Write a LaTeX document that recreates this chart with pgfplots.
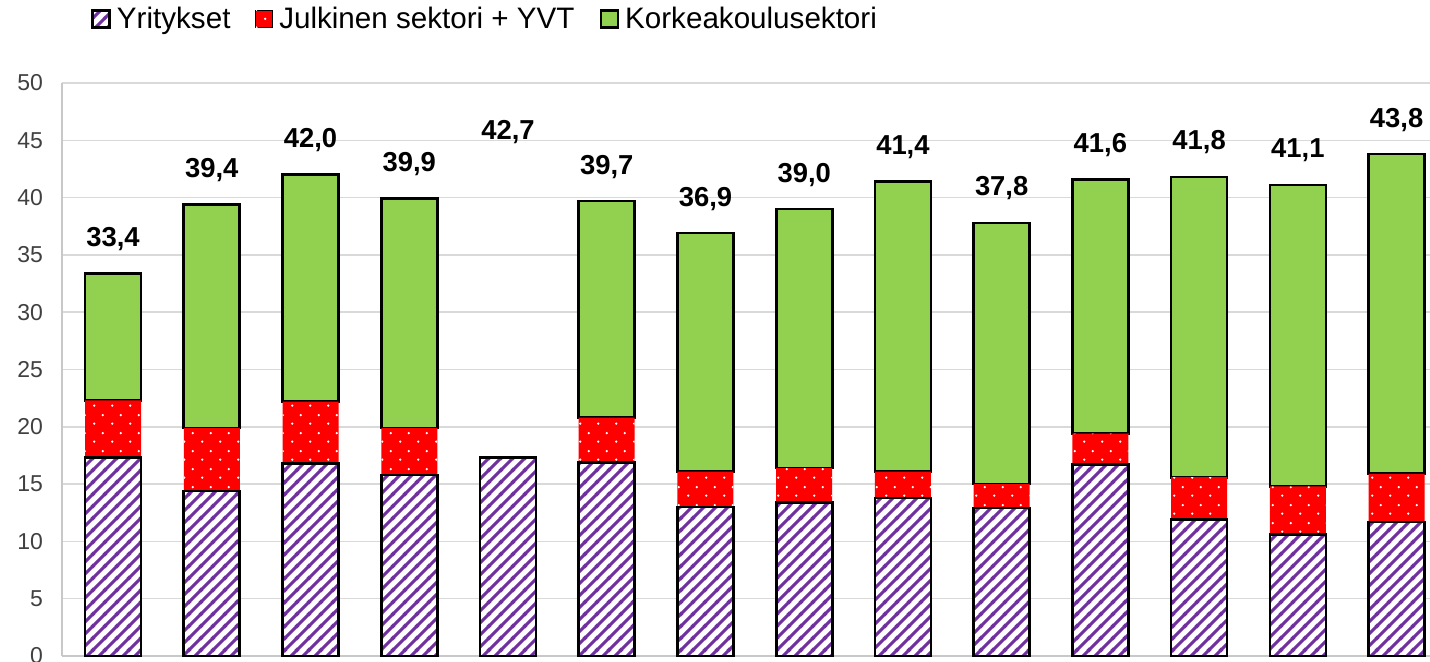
\documentclass[border=0pt]{standalone}
\usepackage{fontspec}
\setmainfont{Liberation Sans}
\usepackage{pgfplots}
\usepackage{pgfplotstable}
\pgfplotsset{compat=1.18}
\usetikzlibrary{patterns}
\definecolor{kkgreen}{HTML}{92D050}
\definecolor{yrpurple}{HTML}{7030A0}
\definecolor{gridgray}{HTML}{D9D9D9}
\definecolor{axisgray}{HTML}{C8C8C8}
\definecolor{tickgray}{HTML}{404040}

\pgfdeclarepatternformonly{thicklines}{\pgfqpoint{0pt}{0pt}}{\pgfqpoint{5.85pt}{5.85pt}}{\pgfqpoint{5.85pt}{5.85pt}}{%
  \pgfsetlinewidth{1.5pt}%
  \pgfpathmoveto{\pgfqpoint{-1pt}{-1pt}}\pgfpathlineto{\pgfqpoint{6.85pt}{6.85pt}}%
  \pgfpathmoveto{\pgfqpoint{-6.85pt}{-1pt}}\pgfpathlineto{\pgfqpoint{1pt}{6.85pt}}%
  \pgfpathmoveto{\pgfqpoint{4.85pt}{-1pt}}\pgfpathlineto{\pgfqpoint{12.7pt}{6.85pt}}%
  \pgfusepath{stroke}%
}
\pgfdeclarepatternformonly{whitedots}{\pgfqpoint{0pt}{0pt}}{\pgfqpoint{9pt}{9pt}}{\pgfqpoint{9pt}{9pt}}{%
  \pgfpathcircle{\pgfqpoint{2.25pt}{2.25pt}}{0.65pt}%
  \pgfpathcircle{\pgfqpoint{6.75pt}{6.75pt}}{0.65pt}%
  \pgfusepath{fill}%
}

\pgfplotstableread{
x  yr   jul  kk   tot
0  17.3 5.0  11.1 33.4
1  14.4 5.5  19.5 39.4
2  16.8 5.4  19.8 42.0
3  15.8 4.1  20.0 39.9
4  17.3 0    0    42.7
5  16.9 3.9  18.9 39.7
6  13.0 3.1  20.8 36.9
7  13.4 3.0  22.6 39.0
8  13.8 2.3  25.3 41.4
9  12.9 2.1  22.8 37.8
10 16.7 2.7  22.2 41.6
11 11.9 3.7  26.2 41.8
12 10.6 4.2  26.3 41.1
13 11.7 4.2  27.9 43.8
}\data

\begin{document}
\begin{tikzpicture}
\begin{axis}[
  at={(0,0)}, anchor=south west,
  scale only axis, width=691pt, height=286.5pt,
  ybar stacked, bar width=28pt,
  xmin=-0.517, xmax=13.48, ymin=0, ymax=50, enlargelimits=false,
  xtick=\empty, ytick={0,5,...,50},
  axis x line*=bottom, axis y line*=left,
  axis line style={draw=axisgray, line width=0.75pt},
  major tick length=0pt,
  ymajorgrids, grid style={draw=gridgray, line width=0.75pt},
  /pgf/number format/assume math mode=true,
  yticklabel style={font=\fontsize{11.5}{13}\selectfont, text=tickgray, xshift=-6pt},
  legend columns=-1,
  legend style={at={(axis description cs:0,1)}, anchor=west, xshift=14.5pt, yshift=32pt,
    draw=none, fill=none, inner sep=0pt,
    font=\fontsize{14.8}{17}\selectfont,
    /tikz/every even column/.append style={column sep=10.5pt},
    /tikz/every odd column/.append style={column sep=1pt}},
  legend image code/.code={\draw[#1] (0pt,-4.25pt) rectangle (8.5pt,4.25pt);},
]
\addplot[draw=black, line width=1.3pt, fill=white,
  postaction={pattern=thicklines, pattern color=yrpurple},
  postaction={draw=black, fill=none, line width=1.3pt}]
  table[x=x, y=yr] {\data};
\addlegendentry{Yritykset}
\addplot[draw=none, fill=red,
  postaction={pattern=whitedots, pattern color=white}]
  table[x=x, y=jul] {\data};
\addlegendentry{Julkinen sektori + YVT}
\addplot[draw=black, line width=1.3pt, fill=kkgreen]
  table[x=x, y=kk] {\data};
\addlegendentry{Korkeakoulusektori}
\end{axis}
\begin{axis}[
  at={(0,0)}, anchor=south west,
  scale only axis, width=691pt, height=286.5pt,
  xmin=-0.517, xmax=13.48, ymin=0, ymax=50, enlargelimits=false,
  hide axis, clip=false,
]
\addplot[draw=none, mark=none, point meta=explicit,
  nodes near coords={\pgfmathprintnumber[fixed,fixed zerofill,precision=1,use comma,assume math mode=true]{\pgfplotspointmeta}},
  every node near coord/.append style={font=\fontsize{13.7}{16}\selectfont\bfseries, text=black, anchor=base, yshift=13.5pt}]
  table[x=x, y=tot, meta=tot] {\data};
\end{axis}
\pgfresetboundingbox
\useasboundingbox (-31pt,-2.5pt) rectangle (684pt,328pt);
\end{tikzpicture}
\end{document}
